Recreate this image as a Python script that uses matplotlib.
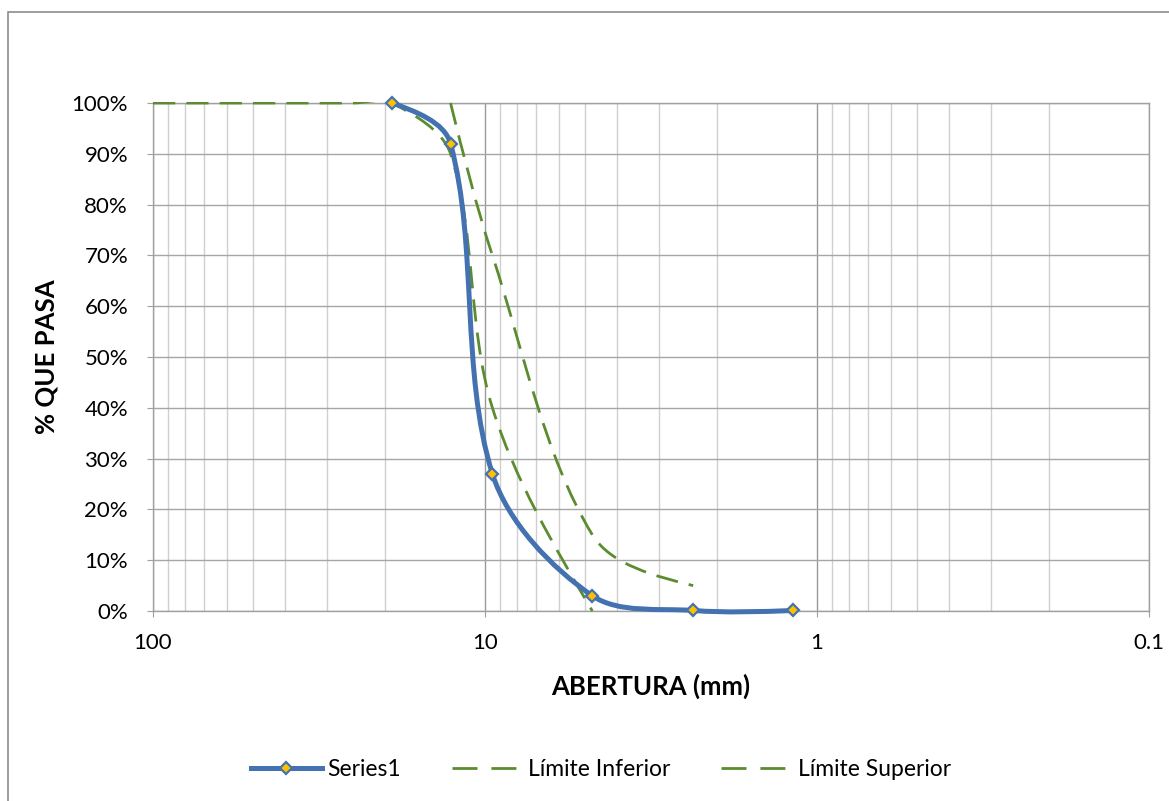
import matplotlib
matplotlib.use("Agg")
import matplotlib.pyplot as plt
import numpy as np
from matplotlib.path import Path
from matplotlib.patches import PathPatch, Rectangle
from matplotlib.lines import Line2D
from matplotlib.ticker import FixedLocator, FuncFormatter, PercentFormatter

plt.rcParams["font.family"] = ["Lato", "DejaVu Sans"]

# sieve openings (mm) and % passing
serie_x = [19.05, 12.7, 9.5, 4.75, 2.36, 1.18]
serie_y = [100, 92, 27, 3, 0.1, 0.1]

inf_x = [100, 75, 50, 37.5, 25, 19.05, 12.7, 9.5, 4.75]
inf_y = [100, 100, 100, 100, 100, 100, 90, 40, 0]

sup_x = [12.7, 9.5, 4.75, 2.36]
sup_y = [100, 70, 15, 5]

x_ticks = [100, 10, 1, 0.1]

BLUE = "#4472B0"
GREEN = "#5B8C30"
YELLOW = "#FFC000"

W, H = 1169, 801
L, R, T, B = 153, 1149, 103, 611
PX_DEC = (R - L) / 3.0   # pixels per decade
PX_PCT = (B - T) / 100.0  # pixels per percent


def smooth_path(xs, ys):
    """Excel-like smoothed line: cubic Bezier through the points, built in screen space."""
    pts = np.column_stack([np.log10(np.asarray(xs, float)) * PX_DEC,
                           np.asarray(ys, float) * PX_PCT])
    n = len(pts)
    arm_in = np.zeros_like(pts)
    arm_out = np.zeros_like(pts)
    for i in range(1, n - 1):
        d = pts[i + 1] - pts[i - 1]
        dp = np.hypot(*(pts[i] - pts[i - 1]))
        dn = np.hypot(*(pts[i + 1] - pts[i]))
        arm_in[i] = d * dp / (dp + dn) / 3.0
        arm_out[i] = d * dn / (dp + dn) / 3.0
    # end points: aim at the neighbouring control point
    v = (pts[1] - arm_in[1]) - pts[0]
    arm_out[0] = v / np.hypot(*v) * np.hypot(*(pts[1] - pts[0])) / 3.0
    v = pts[-1] - (pts[-2] + arm_out[-2])
    arm_in[-1] = v / np.hypot(*v) * np.hypot(*(pts[-1] - pts[-2])) / 3.0

    verts = [pts[0]]
    codes = [Path.MOVETO]
    for i in range(n - 1):
        verts += [pts[i] + arm_out[i], pts[i + 1] - arm_in[i + 1], pts[i + 1]]
        codes += [Path.CURVE4] * 3
    verts = np.array(verts)
    verts[:, 0] = 10 ** (verts[:, 0] / PX_DEC)
    verts[:, 1] = verts[:, 1] / PX_PCT
    return Path(verts, codes)


fig = plt.figure(figsize=(W / 100, H / 100), dpi=100)
ax = fig.add_axes([L / W, 1 - B / H, (R - L) / W, (B - T) / H])

# chart area border
fig.patches.append(Rectangle((8 / W, -0.05), 1.2, 1 - 12 / H + 0.05,
                             transform=fig.transFigure, fill=False,
                             edgecolor="#8C8C8C", linewidth=1.2, zorder=0))

ax.set_xscale("log")
ax.set_xlim(100, 0.1)
ax.set_ylim(0, 100)

ax.xaxis.set_major_locator(FixedLocator(x_ticks))
ax.xaxis.set_major_formatter(FuncFormatter(lambda v, p: f"{v:g}"))
minor = [m * 10.0 ** e for e in range(-1, 2) for m in range(2, 10)]
ax.xaxis.set_minor_locator(FixedLocator(minor))
ax.xaxis.set_minor_formatter(FuncFormatter(lambda v, p: ""))
ax.yaxis.set_major_locator(FixedLocator(np.arange(0, 101, 10)))
ax.yaxis.set_major_formatter(PercentFormatter(100, decimals=0))

ax.grid(True, which="major", axis="x", color="#999999", linewidth=1.0)
ax.grid(True, which="minor", axis="x", color="#CFCFCF", linewidth=1.0)
ax.grid(True, which="major", axis="y", color="#A6A6A6", linewidth=1.0)
ax.set_axisbelow(True)

for s in ax.spines.values():
    s.set_color("#A0A0A0")
    s.set_linewidth(1.0)
ax.tick_params(which="major", length=4, color="#A0A0A0", labelsize=16, pad=11.5)
ax.tick_params(which="minor", length=0)
ax.tick_params(axis="y", pad=14)

# plot-area clip, a little looser than the axes box
clip = Rectangle((0, -10 / (B - T)), 1, 1 + 11.5 / (B - T),
                 transform=ax.transAxes, visible=False)
ax.add_artist(clip)

dash = (0, (8, 4))
for xs, ys in [(inf_x, inf_y), (sup_x, sup_y)]:
    p = PathPatch(smooth_path(xs, ys), fill=False, edgecolor=GREEN,
                  linewidth=2.0, linestyle=dash, zorder=3)
    ax.add_patch(p)
    p.set_clip_path(clip)
p = PathPatch(smooth_path(serie_x, serie_y), fill=False, edgecolor=BLUE,
              linewidth=3.6, capstyle="round", zorder=4)
ax.add_patch(p)
p.set_clip_path(clip)
ax.plot(serie_x, serie_y, linestyle="none", marker="D", markersize=6.5,
        markerfacecolor=YELLOW, markeredgecolor=BLUE, markeredgewidth=1.6,
        zorder=5, clip_on=False)

ax.set_xlabel("ABERTURA (mm)", fontsize=18.5, fontweight="bold", labelpad=15.5)
ax.set_ylabel("% QUE PASA", fontsize=18.5, fontweight="bold", labelpad=9)

leg_dash = (0, (9, 5))
handles = [
    Line2D([], [], color=BLUE, linewidth=3.6, marker="D", markersize=6.5,
           markerfacecolor=YELLOW, markeredgecolor=BLUE, markeredgewidth=1.6),
    Line2D([], [], color=GREEN, linewidth=2.0, linestyle=leg_dash),
    Line2D([], [], color=GREEN, linewidth=2.0, linestyle=leg_dash),
]
fig.legend(handles, ["Series1", "Límite Inferior", "Límite Superior"],
           loc="center", bbox_to_anchor=(601 / W, 1 - 770 / H), ncol=3,
           frameon=False, fontsize=16.5, handlelength=3.1, columnspacing=2.2,
           handletextpad=0.25)

fig.savefig("out.png", dpi=100)
